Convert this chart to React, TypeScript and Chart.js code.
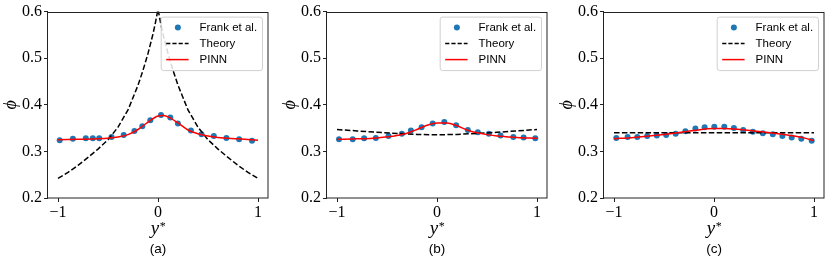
import React, { useEffect, useRef } from "react";
import { Chart, registerables } from "chart.js";

Chart.register(...registerables);

// ---------- data ----------
const xTickValues = [-1, 0, 1];
const yTickValues = [0.2, 0.3, 0.4, 0.5, 0.6];
const legendLabels = ["Frank et al.", "Theory", "PINN"];
const panelLabels = ["(a)", "(b)", "(c)"];

// panel (a)
const frankAX = [-0.983, -0.851, -0.722, -0.652, -0.588, -0.465, -0.343, -0.236, -0.157, -0.077, 0.03, 0.123, 0.199, 0.329, 0.435, 0.558, 0.684, 0.811, 0.94];
const frankAY = [0.324, 0.327, 0.328, 0.328, 0.328, 0.331, 0.335, 0.344, 0.354, 0.367, 0.378, 0.373, 0.36, 0.345, 0.337, 0.333, 0.329, 0.326, 0.323];
const theoryAX = [-1, -0.9, -0.8, -0.7, -0.6, -0.5, -0.4, -0.3, -0.2, -0.15, -0.1, -0.05, -0.025, 0, 0.025, 0.05, 0.1, 0.15, 0.2, 0.3, 0.4, 0.5, 0.6, 0.7, 0.8, 0.9, 1];
const theoryAY = [0.242, 0.255, 0.27, 0.287, 0.305, 0.325, 0.352, 0.389, 0.442, 0.474, 0.51, 0.552, 0.577, 0.605, 0.577, 0.552, 0.51, 0.474, 0.442, 0.389, 0.352, 0.325, 0.305, 0.287, 0.27, 0.255, 0.242];
const pinnAX = [-1, -0.8, -0.6, -0.4, -0.3, -0.2, -0.1, 0, 0.05, 0.1, 0.2, 0.3, 0.4, 0.5, 0.6, 0.8, 1];
const pinnAY = [0.325, 0.326, 0.327, 0.331, 0.336, 0.347, 0.363, 0.376, 0.377, 0.374, 0.361, 0.346, 0.338, 0.333, 0.33, 0.327, 0.324];

// panel (b)
const frankBX = [-0.98, -0.843, -0.729, -0.612, -0.485, -0.351, -0.261, -0.154, -0.043, 0.073, 0.191, 0.308, 0.408, 0.519, 0.635, 0.763, 0.866, 0.983];
const frankBY = [0.326, 0.326, 0.328, 0.329, 0.333, 0.338, 0.345, 0.352, 0.36, 0.363, 0.356, 0.346, 0.341, 0.338, 0.334, 0.331, 0.33, 0.328];
const theoryBX = [-1, -0.8, -0.6, -0.4, -0.2, 0, 0.2, 0.4, 0.6, 0.8, 1];
const theoryBY = [0.347, 0.344, 0.341, 0.3385, 0.3365, 0.3355, 0.3365, 0.3385, 0.341, 0.344, 0.347];
const pinnBX = [-1, -0.8, -0.6, -0.4, -0.3, -0.2, -0.1, 0, 0.1, 0.2, 0.3, 0.4, 0.5, 0.6, 0.8, 1];
const pinnBY = [0.326, 0.327, 0.329, 0.334, 0.339, 0.347, 0.356, 0.361, 0.361, 0.355, 0.346, 0.34, 0.336, 0.333, 0.33, 0.328];

// panel (c)
const frankCX = [-0.977, -0.864, -0.767, -0.668, -0.572, -0.478, -0.383, -0.286, -0.186, -0.094, 0.003, 0.103, 0.199, 0.292, 0.389, 0.488, 0.588, 0.684, 0.777, 0.873, 0.977];
const frankCY = [0.329, 0.331, 0.331, 0.333, 0.334, 0.335, 0.338, 0.343, 0.349, 0.352, 0.353, 0.353, 0.35, 0.346, 0.342, 0.339, 0.337, 0.333, 0.33, 0.327, 0.323];
const theoryCX = [-1, 0, 1];
const theoryCY = [0.34, 0.34, 0.34];
const pinnCX = [-1, -0.8, -0.6, -0.4, -0.2, 0, 0.1, 0.2, 0.4, 0.6, 0.8, 0.9, 1];
const pinnCY = [0.327, 0.33, 0.334, 0.339, 0.345, 0.349, 0.349, 0.348, 0.344, 0.339, 0.333, 0.329, 0.323];

// ---------- layout ----------
const H = 260;
const CANVAS_W = 274;
const PLOT_LEFT = 48;
const PLOT_W = 220;
const PLOT_TOP = 8;
const PLOT_BOTTOM = 198;
const panelLefts = [0, 279, 556];

const BLUE = "#1f77b4";
const RED = "#ff0000";
const SERIF = "'Liberation Serif', 'DejaVu Serif', serif";
const SANS = "'Liberation Sans', Arial, sans-serif";

const zip = (xs: number[], ys: number[]) => xs.map((x, i) => ({ x, y: ys[i] }));

const panels = [
  { frank: zip(frankAX, frankAY), theory: zip(theoryAX, theoryAY), pinn: zip(pinnAX, pinnAY), label: panelLabels[0] },
  { frank: zip(frankBX, frankBY), theory: zip(theoryBX, theoryBY), pinn: zip(pinnBX, pinnBY), label: panelLabels[1] },
  { frank: zip(frankCX, frankCY), theory: zip(theoryCX, theoryCY), pinn: zip(pinnCX, pinnCY), label: panelLabels[2] },
];

const decorPlugin = {
  id: "decor",
  afterDraw(chart: any, _args: any, opts: any) {
    const { ctx, chartArea: ca } = chart;
    ctx.save();
    // frame
    ctx.strokeStyle = "#222";
    ctx.lineWidth = 1;
    ctx.strokeRect(Math.round(ca.left) - 0.5, Math.round(ca.top) + 0.5, Math.round(ca.right - ca.left) + 0.5, Math.round(ca.bottom - ca.top) - 0.5);

    // legend
    ctx.font = `11.5px ${SANS}`;
    const tw = Math.max(...legendLabels.map((t) => ctx.measureText(t).width));
    const bw = 38.4 + tw + 5.4;
    const bh = 53.5;
    const bx = ca.right - 5.5 - bw;
    const by = ca.top + 5.5;
    ctx.beginPath();
    const r = 2.5;
    ctx.moveTo(bx + r, by);
    ctx.arcTo(bx + bw, by, bx + bw, by + bh, r);
    ctx.arcTo(bx + bw, by + bh, bx, by + bh, r);
    ctx.arcTo(bx, by + bh, bx, by, r);
    ctx.arcTo(bx, by, bx + bw, by, r);
    ctx.closePath();
    ctx.fillStyle = "rgba(255,255,255,0.85)";
    ctx.fill();
    ctx.strokeStyle = "#d0d0d0";
    ctx.stroke();

    const rows = legendLabels.map((_, i) => by + 10.5 + 16 * i);
    // dot
    ctx.fillStyle = BLUE;
    ctx.beginPath();
    ctx.arc(bx + 16.7, rows[0], 3, 0, Math.PI * 2);
    ctx.fill();
    // dashed
    ctx.strokeStyle = "#000";
    ctx.lineWidth = 1.5;
    ctx.setLineDash([4.2, 2]);
    ctx.beginPath();
    ctx.moveTo(bx + 5, rows[1]);
    ctx.lineTo(bx + 27.4, rows[1]);
    ctx.stroke();
    ctx.setLineDash([]);
    ctx.strokeStyle = RED;
    ctx.beginPath();
    ctx.moveTo(bx + 5, rows[2]);
    ctx.lineTo(bx + 27.4, rows[2]);
    ctx.stroke();
    ctx.fillStyle = "#000";
    ctx.textBaseline = "middle";
    ctx.textAlign = "left";
    legendLabels.forEach((t, i) => ctx.fillText(t, bx + 38.4, rows[i] + 0.5));

    // x title y*
    const cx = (ca.left + ca.right) / 2;
    ctx.textBaseline = "alphabetic";
    ctx.font = `italic 19px ${SERIF}`;
    const wy = ctx.measureText("y").width;
    ctx.font = `12px ${SERIF}`;
    const ws = ctx.measureText("*").width;
    const sx = cx - (wy + ws) / 2;
    ctx.font = `italic 19px ${SERIF}`;
    ctx.fillText("y", sx, 234);
    ctx.font = `12px ${SERIF}`;
    ctx.fillText("*", sx + wy + 0.5, 230);

    // caption
    ctx.font = `13.5px ${SANS}`;
    ctx.textAlign = "center";
    ctx.textBaseline = "middle";
    ctx.fillText(opts.label, cx, 249);

    // y title phi
    ctx.translate(11, (ca.top + ca.bottom) / 2);
    ctx.rotate(-Math.PI / 2);
    ctx.font = `italic 18px ${SERIF}`;
    ctx.fillText("\u03D5", 0, 0);
    ctx.restore();
  },
};

function Panel({ idx }: { idx: number }) {
  const ref = useRef<HTMLCanvasElement>(null);
  useEffect(() => {
    const p = panels[idx];
    const chart = new Chart(ref.current as HTMLCanvasElement, {
      type: "scatter",
      data: {
        datasets: [
          {
            label: legendLabels[0],
            data: p.frank,
            showLine: false,
            pointRadius: 3,
            pointBackgroundColor: BLUE,
            pointBorderWidth: 0,
            backgroundColor: BLUE,
            order: 3,
          },
          {
            label: legendLabels[1],
            data: p.theory,
            showLine: true,
            pointRadius: 0,
            borderColor: "#000",
            borderWidth: 1.5,
            borderDash: [5.5, 2.4],
            tension: 0,
            order: 2,
          },
          {
            label: legendLabels[2],
            data: p.pinn,
            showLine: true,
            pointRadius: 0,
            borderColor: RED,
            borderWidth: 1.5,
            cubicInterpolationMode: "monotone",
            order: 1,
          },
        ],
      } as any,
      options: {
        animation: false,
        responsive: false,
        devicePixelRatio: 1,
        events: [],
        layout: { padding: { top: PLOT_TOP, right: CANVAS_W - PLOT_LEFT - PLOT_W, left: 0, bottom: 0 } },
        plugins: {
          legend: { display: false },
          tooltip: { enabled: false },
          decor: { label: p.label },
        } as any,
        scales: {
          x: {
            type: "linear",
            min: -1.1,
            max: 1.1,
            afterBuildTicks: (axis: any) => {
              axis.ticks = xTickValues.map((v) => ({ value: v }));
            },
            afterFit: (s: any) => {
              s.height = H - PLOT_BOTTOM;
            },
            ticks: {
              color: "#000",
              font: { family: SERIF, size: 16 },
              padding: 1,
              maxRotation: 0,
              callback: (v: any) => (v < 0 ? "\u2212" + Math.abs(v) : String(v)),
            },
            grid: { display: true, drawOnChartArea: false, drawTicks: true, tickLength: 4, color: "#222" },
            border: { display: false },
          },
          y: {
            type: "linear",
            min: 0.2,
            max: 0.6,
            afterBuildTicks: (axis: any) => {
              axis.ticks = yTickValues.map((v) => ({ value: v }));
            },
            afterFit: (s: any) => {
              s.width = PLOT_LEFT;
            },
            ticks: {
              color: "#000",
              font: { family: SERIF, size: 16 },
              padding: 2,
              callback: (v: any) => Number(v).toFixed(1),
            },
            grid: { display: true, drawOnChartArea: false, drawTicks: true, tickLength: 4, color: "#222" },
            border: { display: false },
          },
        },
      } as any,
      plugins: [decorPlugin],
    });
    return () => chart.destroy();
  }, [idx]);
  return (
    <canvas
      ref={ref}
      width={CANVAS_W}
      height={H}
      style={{ position: "absolute", left: panelLefts[idx], top: 0, width: CANVAS_W, height: H }}
    />
  );
}

export default function App() {
  return (
    <div style={{ position: "absolute", left: 0, top: 0, width: 830, height: H, background: "#fff" }}>
      {panels.map((_, i) => (
        <Panel key={i} idx={i} />
      ))}
    </div>
  );
}
